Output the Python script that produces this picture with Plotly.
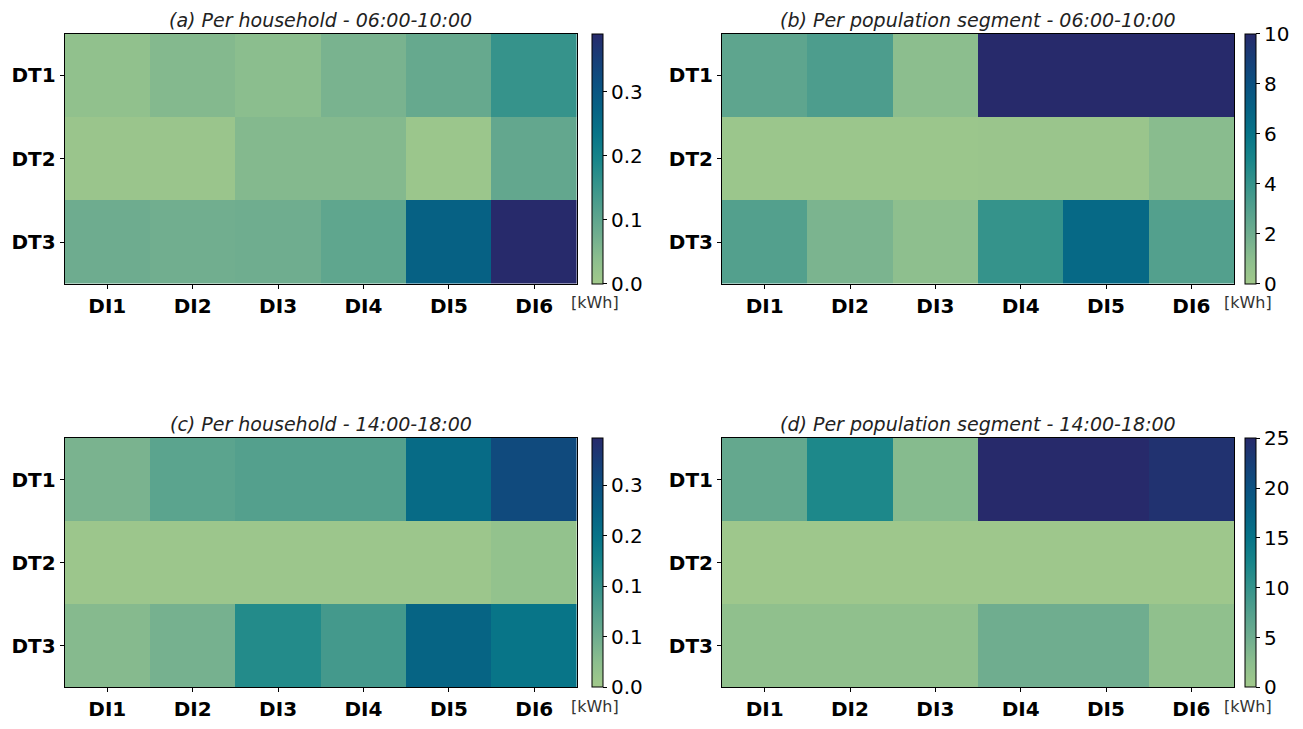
import plotly.graph_objects as go

# ---- data ----
districts = ["DI1", "DI2", "DI3", "DI4", "DI5", "DI6"]
dtypes = ["DT1", "DT2", "DT3"]

hh_morning = [
    [0.030, 0.050, 0.040, 0.065, 0.090, 0.155],
    [0.015, 0.015, 0.050, 0.050, 0.012, 0.095],
    [0.080, 0.075, 0.078, 0.100, 0.275, 0.390],
]
seg_morning = [
    [2.6, 3.2, 1.0, 10.0, 10.0, 10.0],
    [0.3, 0.3, 0.3, 0.35, 0.35, 1.1],
    [3.0, 1.6, 0.9, 4.0, 6.6, 3.0],
]
hh_afternoon = [
    [0.060, 0.100, 0.110, 0.110, 0.240, 0.310],
    [0.010, 0.010, 0.010, 0.010, 0.010, 0.025],
    [0.045, 0.065, 0.170, 0.130, 0.255, 0.220],
]
seg_afternoon = [
    [6.0, 12.0, 3.0, 25.0, 25.0, 24.0],
    [0.5, 0.5, 0.5, 0.5, 0.5, 0.5],
    [2.0, 2.0, 2.0, 5.0, 5.0, 2.0],
]

titles = [
    "(a) Per household - 06:00-10:00",
    "(b) Per population segment - 06:00-10:00",
    "(c) Per household - 14:00-18:00",
    "(d) Per population segment - 14:00-18:00",
]
zmaxes = [0.39, 10, 0.37, 25]
cb_tickvals = [
    [0, 0.1, 0.2, 0.3],
    [0, 2, 4, 6, 8, 10],
    [0, 0.075, 0.15, 0.225, 0.3],
    [0, 5, 10, 15, 20, 25],
]
cb_ticktext = [
    ["0.0", "0.1", "0.2", "0.3"],
    ["0", "2", "4", "6", "8", "10"],
    ["0.0", "0.1", "0.1", "0.2", "0.3"],
    ["0", "5", "10", "15", "20", "25"],
]
unit = "[kWh]"

crest = [
    [0.00, "#a2c98b"],
    [0.10, "#8cbe8e"],
    [0.20, "#6fad8f"],
    [0.30, "#53a08d"],
    [0.40, "#35938b"],
    [0.50, "#17858a"],
    [0.60, "#077488"],
    [0.70, "#066284"],
    [0.80, "#0b5181"],
    [0.90, "#173e77"],
    [1.00, "#272a6b"],
]

# window coordinates -> figure coordinates (page body has 8px margin)
OFF = 8
W, H = 1303 - 2 * OFF, 729 - 2 * OFF
def px_x(v): return (v - OFF) / W
def px_y(v): return 1 - (v - OFF) / H

panels = [
    dict(z=hh_morning, x0=64.6, x1=577, y0=34, y1=289, cbx=592),
    dict(z=seg_morning, x0=722, x1=1234, y0=34, y1=289, cbx=1245),
    dict(z=hh_afternoon, x0=64.6, x1=577, y0=446, y1=700, cbx=592),
    dict(z=seg_afternoon, x0=722, x1=1234, y0=446, y1=700, cbx=1245),
]

fig = go.Figure()
font_family = "DejaVu Sans"
annotations = []
for i, p in enumerate(panels):
    ax = "" if i == 0 else str(i + 1)
    fig.add_trace(go.Heatmap(
        z=p["z"], x=districts, y=dtypes,
        xaxis="x" + ax, yaxis="y" + ax,
        colorscale=crest, zmin=0, zmax=zmaxes[i],
        colorbar=dict(
            x=px_x(p["cbx"]), xanchor="left",
            y=px_y(p["y1"]), yanchor="bottom",
            len=(p["y1"] - p["y0"]) / H, lenmode="fraction",
            thickness=11, thicknessmode="pixels",
            outlinecolor="black", outlinewidth=1,
            ticks="outside", ticklen=4, tickcolor="black",
            tickvals=cb_tickvals[i], ticktext=cb_ticktext[i],
            tickfont=dict(family=font_family, size=20, color="black"),
            xpad=0, ypad=0,
        ),
        hoverinfo="skip",
    ))
    fig.layout["xaxis" + ax] = dict(
        domain=[px_x(p["x0"]), px_x(p["x1"])], anchor="y" + ax,
        showline=True, mirror=True, linecolor="black", linewidth=1,
        ticks="outside", ticklen=4, tickcolor="black",
        tickfont=dict(family=font_family, size=20, color="black", weight="bold"),
        showgrid=False, zeroline=False, fixedrange=True,
    )
    fig.layout["yaxis" + ax] = dict(
        domain=[px_y(p["y1"]), px_y(p["y0"])], anchor="x" + ax,
        autorange="reversed",
        showline=True, mirror=True, linecolor="black", linewidth=1,
        ticks="outside", ticklen=4, tickcolor="black",
        tickfont=dict(family=font_family, size=20, color="black", weight="bold"),
        showgrid=False, zeroline=False, fixedrange=True,
    )
    annotations.append(dict(
        text="<i>" + titles[i] + "</i>", xref="paper", yref="paper",
        x=px_x((p["x0"] + p["x1"]) / 2), y=px_y(p["y0"] - 1),
        xanchor="center", yanchor="bottom", showarrow=False,
        font=dict(family=font_family, size=19, color="#222222"),
    ))
    annotations.append(dict(
        text=unit, xref="paper", yref="paper",
        x=px_x(p["cbx"] + 3), y=px_y(p["y1"] + 19),
        xanchor="center", yanchor="middle", showarrow=False,
        font=dict(family=font_family, size=16, color="#333333"),
    ))

fig.update_layout(
    width=W, height=H,
    margin=dict(l=0, r=0, t=0, b=0),
    paper_bgcolor="white", plot_bgcolor="white",
    annotations=annotations,
    showlegend=False,
)
fig.write_html("out.html")
